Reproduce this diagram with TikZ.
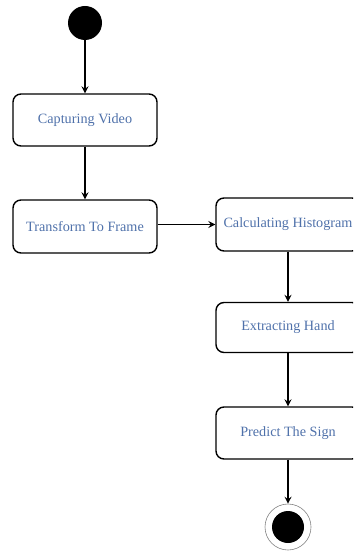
\documentclass[tikz,border=0pt]{standalone}
\usepackage{fontspec}
\setmainfont{Liberation Serif}
\usepackage{tikz}
\usetikzlibrary{arrows.meta,shapes}

\definecolor{labelblue}{RGB}{79,113,170}

\begin{document}
\begin{tikzpicture}[x=1pt,y=-1pt,
  activity/.style={rectangle,draw,line width=1.4pt,rounded corners=8pt,
    minimum width=144pt,minimum height=52pt,text=labelblue,
    font=\fontsize{14.2}{16}\selectfont},
  flow/.style={-{Stealth[length=7pt,width=7pt,inset=2.5pt]},line width=1.2pt}]
\useasboundingbox (0,0) rectangle (353,553);
\clip (0,0) rectangle (353,553);
\node (start) [circle,fill=black,minimum size=34pt,inner sep=0pt] at (85,23) {};
\node (capture) [activity] at (85,120) {Capturing Video};
\node (transform) [activity,minimum height=53pt] at (85,226.5) {Transform To Frame};
\node (histogram) [activity,minimum height=53pt] at (288,224.5) {Calculating Histogram};
\node (hand) [activity,minimum height=50pt] at (288,327.5) {Extracting Hand};
\node (predict) [activity] at (288,433) {Predict The Sign};
\node (stop) [circle,draw=gray,line width=0.6pt,minimum size=46pt,inner sep=0pt] at (288,527) {};
\fill[black] (stop.center) circle (16pt);
\draw[flow] (start) -- (capture);
\draw[flow] (capture) -- (transform);
\draw[flow] (transform.east |- histogram.west) -- (histogram.west);
\draw[flow] (histogram) -- (hand);
\draw[flow] (hand) -- (predict);
\draw[flow] (predict) -- (stop);
\end{tikzpicture}
\end{document}
